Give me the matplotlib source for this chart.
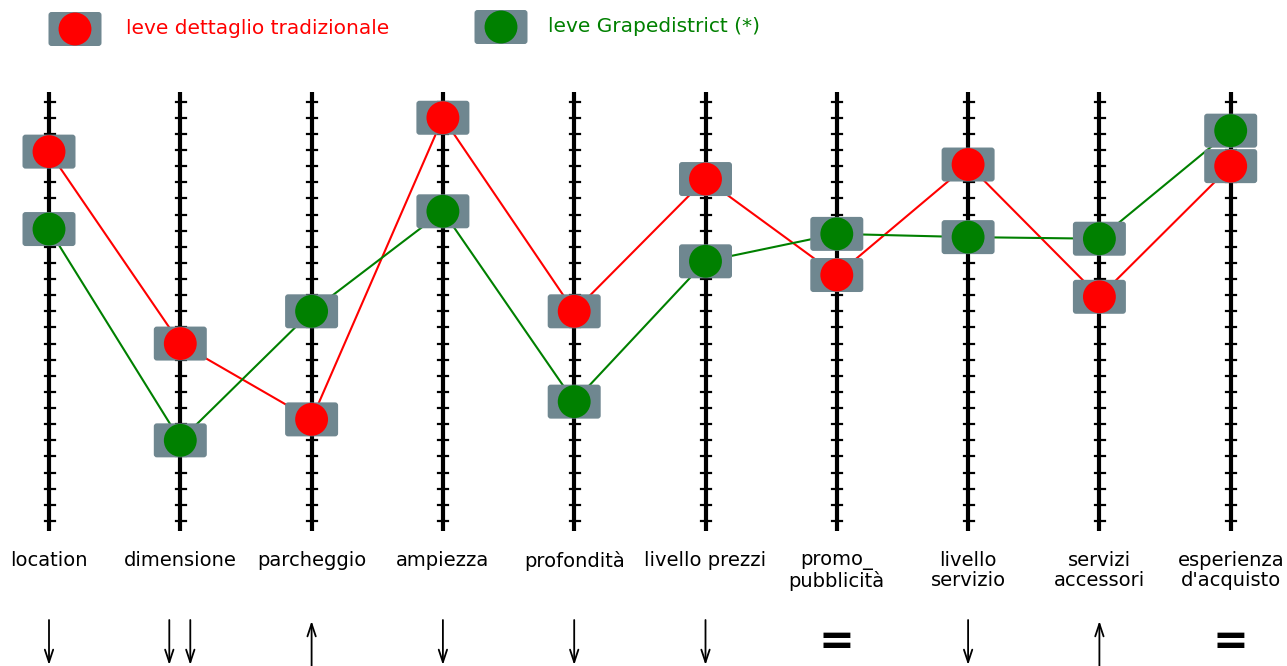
"""Profile chart: leve dettaglio tradizionale vs leve Grapedistrict."""

import matplotlib

matplotlib.use("Agg")

import matplotlib.pyplot as plt
from matplotlib.patches import FancyBboxPatch

categories = [
    "location", "dimensione", "parcheggio", "ampiezza", "profondità",
    "livello prezzi", "promo_\npubblicità", "livello\nservizio",
    "servizi\naccessori", "esperienza\nd'acquisto",
]
tradizionale = [22.9, 11.0, 6.3, 25.0, 13.0, 21.2, 15.25, 22.1, 13.9, 22.0]
grapedistrict = [18.1, 5.0, 13.0, 19.2, 7.4, 16.1, 17.8, 17.6, 17.5, 24.2]
# variation of each lever: "down", "down2", "up", "eq"
variazione = ["down", "down2", "up", "down", "down", "down", "eq", "down", "up", "eq"]
n_ticks = 27

RED = "#ff0000"
GREEN = "#008000"
BOX = "#6f8790"

# pixel layout of the 1287x666 canvas
W, H = 1287, 666
X0, DX = 49, 131.3     # first axis x, spacing between axes (px)
Y0, DY = 521, 16.13    # pixel row of value 0, px per unit


def vy(p):
    """Pixel row -> data value."""
    return (Y0 - p) / DY


fig = plt.figure(figsize=(W / 100, H / 100), dpi=100)
ax = fig.add_axes([0, 0, 1, 1])
ax.set_xlim(-X0 / DX, (W - X0) / DX)
ax.set_ylim(vy(H), vy(0))
ax.axis("off")

xs = list(range(len(categories)))
tick_half = 4.5 / DX

# vertical scales with tick marks
for x in xs:
    ax.plot([x, x], [vy(92), vy(531)], color="black", lw=3.0, zorder=1, solid_capstyle="butt")
    for t in range(n_ticks):
        ax.plot([x - tick_half, x + tick_half + 1 / DX], [t, t], color="black", lw=1.6, zorder=1)

ax.plot(xs, tradizionale, color=RED, lw=1.5, zorder=2)
ax.plot(xs, grapedistrict, color=GREEN, lw=1.5, zorder=2)

bw, bh = 53 / DX, 34 / DY
r = 3 / DX


def marker_box(x, y):
    ax.add_patch(FancyBboxPatch(
        (x - bw / 2, y - bh / 2), bw, bh,
        boxstyle=f"round,pad=0,rounding_size={r}",
        mutation_aspect=DX / DY, fc=BOX, ec="none", zorder=3,
    ))


for x, yr, yg in zip(xs, tradizionale, grapedistrict):
    marker_box(x, yr)
    marker_box(x, yg)
ax.scatter(xs, tradizionale, s=560, color=RED, edgecolors="none", zorder=4)
ax.scatter(xs, grapedistrict, s=560, color=GREEN, edgecolors="none", zorder=4)

# category labels
for x, lab in zip(xs, categories):
    ax.text(x, vy(551), lab, ha="center", va="top", fontsize=14,
            linespacing=1.08, color="black")

# variation arrows / equals signs
for x, v in zip(xs, variazione):
    if v == "eq":
        ax.text(x, vy(654), "=", ha="center", va="baseline", fontsize=31,
                fontweight="bold", color="black")
        continue
    offs = [-11 / DX, 10 / DX] if v == "down2" else [0.0]
    for o in offs:
        if v == "up":
            tip, tail = vy(621), vy(670)
        else:
            tip, tail = vy(665), vy(620)
        ax.annotate("", xy=(x + o, tip), xytext=(x + o, tail),
                    arrowprops=dict(arrowstyle="->,head_length=0.9,head_width=0.3",
                                    color="black", lw=1.3, shrinkA=0, shrinkB=0))

# legend
for lx, ly, color, label, tx in [
    (75, 29, RED, "leve dettaglio tradizionale", 126),
    (501, 27, GREEN, "leve Grapedistrict (*)", 548),
]:
    cx = (lx - X0) / DX
    marker_box(cx, vy(ly))
    ax.scatter([cx], [vy(ly)], s=560, color=color, edgecolors="none", zorder=4)
    ax.text((tx - X0) / DX, vy(ly), label, ha="left", va="center",
            fontsize=14.5, color=color)

fig.savefig("out.png", dpi=100)
plt.close(fig)
